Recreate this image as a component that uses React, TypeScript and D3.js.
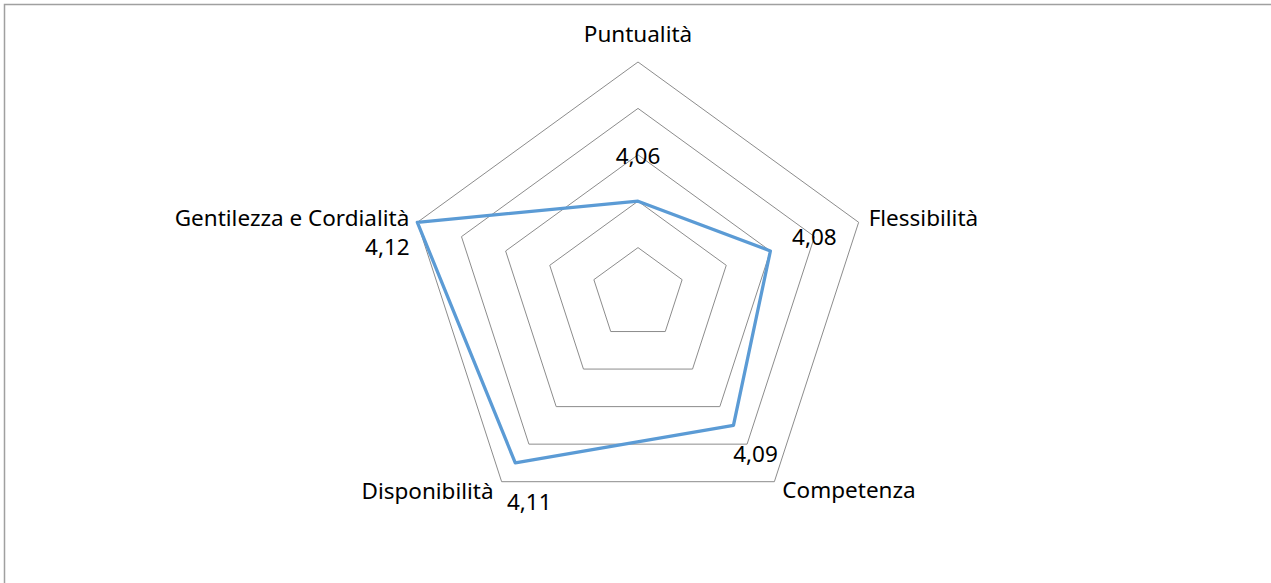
import React from "react";
import * as d3 from "d3";

const categories = ["Puntualità", "Flessibilità", "Competenza", "Disponibilità", "Gentilezza e Cordialità"];
const values = [4.06, 4.08, 4.09, 4.11, 4.12];
const valueLabels = ["4,06", "4,08", "4,09", "4,11", "4,12"];
const ringTicks = [4.04, 4.06, 4.08, 4.1, 4.12];
const scaleMin = 4.02;
const scaleMax = 4.12;

const W = 1271;
const H = 583;
const cx = 638;
const cy = 294;
const R = 232;
const FONT = "'Noto Sans', sans-serif";
const FS = 22.5;

// data-label offsets relative to point (dx, dy to text center-baseline)
const labelOffsets: [number, number][] = [
  [0, -37],
  [44, -6],
  [22, 37],
  [14, 47],
  [-30, 33],
];

export default function App() {
  const r = d3.scaleLinear().domain([scaleMin, scaleMax]).range([0, R]);
  const n = categories.length;
  const angle = d3.scaleLinear().domain([0, n]).range([-Math.PI / 2, (3 * Math.PI) / 2]);
  const pt = (i: number, v: number): [number, number] => {
    const a = angle(i);
    return [cx + r(v) * Math.cos(a), cy + r(v) * Math.sin(a)];
  };
  const line = d3.line<[number, number]>().curve(d3.curveLinearClosed);

  const rings = ringTicks.map((t) => line(categories.map((_, i) => pt(i, t))) as string);
  const dataPath = line(values.map((v, i) => pt(i, v))) as string;

  const catLabels = categories.map((c, i) => {
    const [x, y] = pt(i, scaleMax);
    const a = angle(i);
    const cos = Math.cos(a);
    const sin = Math.sin(a);
    let anchor: "start" | "middle" | "end" = "middle";
    let tx = x;
    let ty = y;
    if (Math.abs(cos) < 0.1) {
      anchor = "middle";
      ty = y - 20;
    } else if (cos > 0) {
      anchor = "start";
      tx = sin < 0 ? x + 10 : x + 8;
      ty = sin < 0 ? y + 4 : y + 16;
    } else {
      anchor = "end";
      tx = x - 8;
      ty = sin < 0 ? y + 4 : y + 17;
    }
    return { c, tx, ty, anchor };
  });

  return (
    <svg
      width={W}
      height={H}
      style={{ position: "absolute", left: 0, top: 0, background: "#fff" }}
      fontFamily={FONT}
    >
      <rect x={4.5} y={4.5} width={1270} height={640} fill="none" stroke="#a0a0a0" strokeWidth={1.5} />
      {rings.map((d, i) => (
        <path key={i} d={d} fill="none" stroke="#8c8c8c" strokeWidth={1} />
      ))}
      <path d={dataPath} fill="none" stroke="#5b9bd5" strokeWidth={3.3} strokeLinejoin="round" />
      {catLabels.map((l, i) => (
        <text key={i} x={l.tx} y={l.ty} textAnchor={l.anchor} fontSize={FS} fill="#000">
          {l.c}
        </text>
      ))}
      {values.map((v, i) => {
        const [x, y] = pt(i, v);
        return (
          <text
            key={i}
            x={x + labelOffsets[i][0]}
            y={y + labelOffsets[i][1]}
            textAnchor="middle"
            fontSize={FS}
            fill="#000"
          >
            {valueLabels[i]}
          </text>
        );
      })}
    </svg>
  );
}
